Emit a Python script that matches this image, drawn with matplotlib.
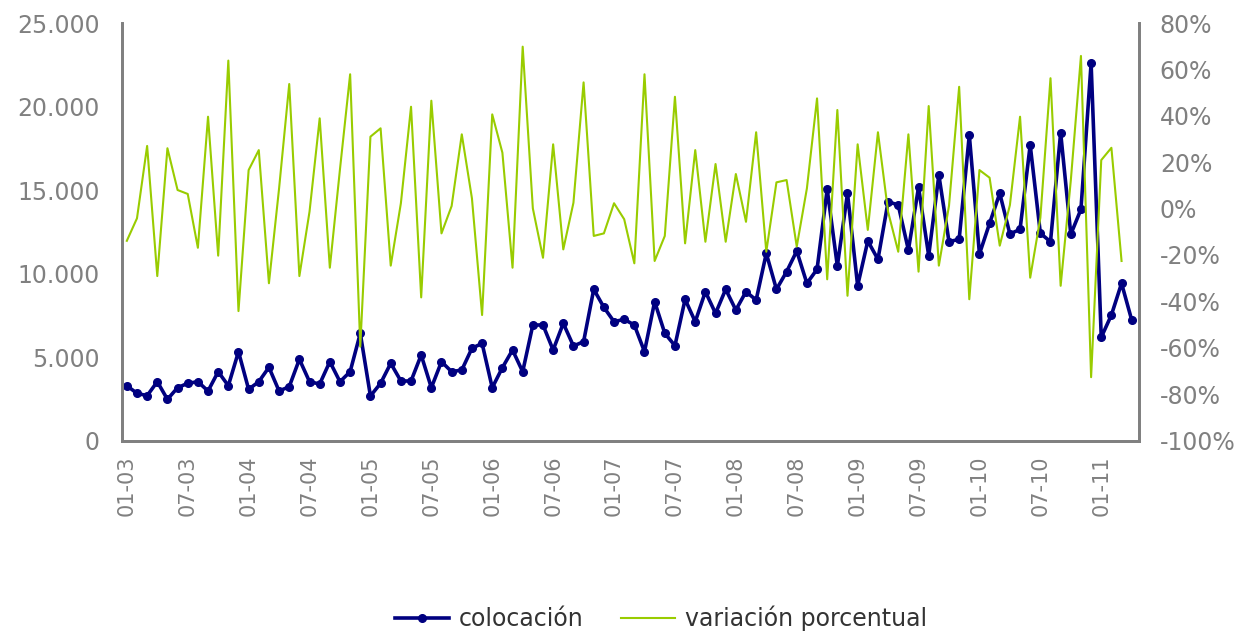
import numpy as np
import matplotlib
matplotlib.use('Agg')
import matplotlib.pyplot as plt
from matplotlib.ticker import FuncFormatter

# monthly series, 01-03 .. 04-11
colocacion = [
    3281, 2826, 2683, 3521, 2467, 3162, 3425, 3521, 2964, 4120,
    3281, 5318, 3066, 3521, 4383, 2964, 3222, 4862, 3521, 3383,
    4719, 3521, 4120, 6419, 2665, 3425, 4623, 3563, 3563, 5120,
    3162, 4719, 4120, 4222, 5520, 5819, 3162, 4363, 5419, 4120,
    6916, 6916, 5419, 7017, 5659, 5918, 9053, 7975, 7115, 7255,
    6916, 5318, 8313, 6419, 5679, 8453, 7115, 8912, 7614, 9053,
    7814, 8912, 8413, 11208, 9053, 10108, 11347, 9413, 10251, 15042,
    10449, 14802, 9270, 11946, 10850, 14300, 14102, 11407, 15162, 11068,
    15898, 11906, 12047, 18293, 11168, 13006, 14802, 12365, 12647, 17694,
    12407, 11906, 18432, 12347, 13844, 22587, 6180, 7515, 9413, 7215,
]

variacion = [
    -13.9, -4.2, 27.0, -29.1, 26.0, 8.0, 6.3, -16.9, 39.6, -20.3,
    63.8, -44.2, 16.6, 25.2, -32.2, 8.7, 53.7, -29.1, -1.3, 38.9,
    -25.5, 17.0, 57.9, -59.5, 31.0, 34.6, -24.6, 2.3, 43.9, -38.3,
    46.5, -10.7, 1.1, 32.0, 4.4, -45.9, 40.6, 24.1, -25.5, 69.8,
    0.1, -21.2, 27.7, -17.6, 2.5, 54.4, -11.8, -10.7, 2.3, -4.6,
    -23.6, 57.9, -22.6, -11.8, 48.2, -15.0, 25.2, -14.3, 19.2, -14.3,
    14.9, -5.7, 32.9, -18.6, 11.3, 12.3, -16.4, 8.7, 47.5, -30.5,
    42.5, -37.6, 27.7, -9.2, 32.9, -1.4, -18.6, 32.0, -27.2, 44.2,
    -24.6, 1.2, 52.5, -39.1, 16.6, 13.3, -16.0, 1.5, 39.6, -29.8,
    -4.0, 56.2, -33.3, 12.1, 65.8, -72.7, 20.9, 26.2, -22.6,
]

tick_labels = ['01-03', '07-03', '01-04', '07-04', '01-05', '07-05', '01-06',
               '07-06', '01-07', '07-07', '01-08', '07-08', '01-09', '07-09',
               '01-10', '07-10', '01-11']

navy = '#000080'
green = '#99CC00'
grey = '#808080'

fig = plt.figure(figsize=(12.47, 6.34), dpi=100)
ax = fig.add_axes([0.0978, 0.3052, 0.8156, 0.6585])
ax2 = ax.twinx()

x1 = np.arange(len(colocacion))
x2 = np.arange(len(variacion))

l1, = ax.plot(x1, colocacion, color=navy, linewidth=2.6, marker='o',
              markersize=5.5, label='colocación')
l2, = ax2.plot(x2, variacion, color=green, linewidth=1.5,
               label='variación porcentual')

ax.set_xlim(-0.48, 99.72)
ax.set_ylim(0, 25000)
ax.set_yticks(np.arange(0, 25001, 5000))
ax.yaxis.set_major_formatter(FuncFormatter(lambda v, p: f'{int(v):,}'.replace(',', '.')))
ax2.set_ylim(-100, 80)
ax2.set_yticks(np.arange(-100, 81, 20))
ax2.yaxis.set_major_formatter(FuncFormatter(lambda v, p: f'{int(round(v))}%'))

ax.set_xticks(np.arange(0, 97, 6))
ax.set_xticklabels(tick_labels, rotation=90)

for a in (ax, ax2):
    for s in a.spines.values():
        s.set_color(grey)
        s.set_linewidth(2)
    a.spines['top'].set_visible(False)
    a.tick_params(length=0, colors=grey, labelsize=17)
ax.tick_params(axis='y', pad=16)
ax2.tick_params(axis='y', pad=15)
ax.tick_params(axis='x', pad=11, labelsize=15)

fig.legend(handles=[l1, l2], loc='center', bbox_to_anchor=(0.53, 0.025),
           ncol=2, frameon=False, fontsize=17, handlelength=2.3,
           columnspacing=1.6, handletextpad=0.4, labelcolor='#333333')

fig.savefig('out.png', dpi=100)
